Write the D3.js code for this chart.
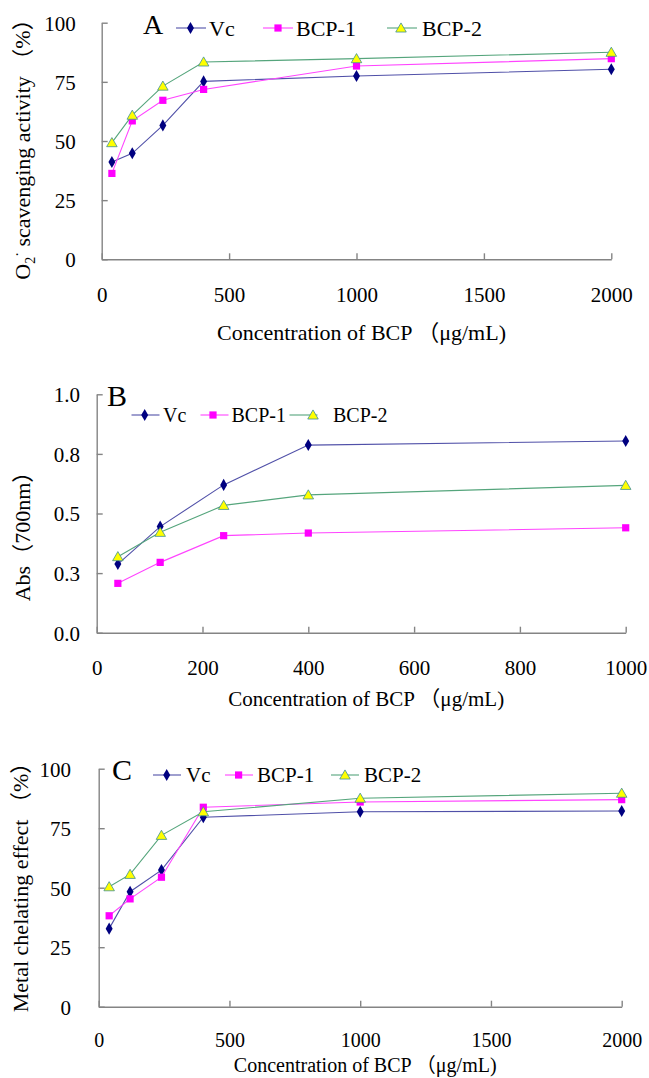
<!DOCTYPE html>
<html>
<head>
<meta charset="utf-8">
<script src="https://cdn.jsdelivr.net/npm/d3@7"></script>
<style>
  html, body { margin: 0; padding: 0; background: #fff; }
  svg { display: block; }
  text { font-family: "Liberation Serif", "Times New Roman", "Noto Sans CJK SC", serif; fill: #000; }
</style>
</head>
<body>
<svg id="chart" width="649" height="1078"></svg>
<script>
// ---------- DATA ----------
const seriesNames = ["Vc", "BCP-1", "BCP-2"];

const concA = [40, 120, 240, 400, 1000, 2000];
const vcA   = [41.1, 44.8, 56.6, 75.2, 77.5, 80.3];
const bcp1A = [36.3, 58.5, 67.2, 71.8, 81.7, 84.8];
const bcp2A = [49.3, 60.9, 73.2, 83.4, 84.8, 87.5];

const concB = [40, 120, 240, 400, 1000];
const vcB   = [0.288, 0.445, 0.620, 0.787, 0.804];
const bcp1B = [0.207, 0.295, 0.407, 0.418, 0.440];
const bcp2B = [0.319, 0.421, 0.534, 0.578, 0.618];

const concC = [40, 120, 240, 400, 1000, 2000];
const vcC   = [32.8, 48.3, 57.4, 79.6, 81.9, 82.2];
const bcp1C = [38.2, 45.3, 54.4, 83.8, 86.0, 87.0];
const bcp2C = [50.4, 55.6, 72.0, 81.9, 87.6, 89.7];

const xTicksA = [0, 500, 1000, 1500, 2000];
const yTicksA = [0, 25, 50, 75, 100];
const xTicksB = [0, 200, 400, 600, 800, 1000];
const yTicksB = [0, 0.25, 0.5, 0.75, 1.0];
const xTicksC = [0, 500, 1000, 1500, 2000];
const yTicksC = [0, 25, 50, 75, 100];

const xTitle = "Concentration of BCP （μg/mL)";

// ---------- STYLES ----------
const styles = [
  { line: "#5050a8", fill: "#000080", stroke: "none", sym: d3.symbolDiamond, size: 42 },
  { line: "#ff44ff", fill: "#ff00ff", stroke: "none", sym: d3.symbolSquare, size: 52 },
  { line: "#55a57c", fill: "#ffff00", stroke: "#3f8f96", sym: d3.symbolTriangle, size: 48 }
];

const svg = d3.select("#chart");

const panels = [
  {
    letter: "A", letterX: 143, letterY: 34, letterSize: 28,
    x0: 101.7, x1: 611.3, yTop: 22.7, yBot: 259.3,
    xDomain: [0, 2000], yDomain: [0, 100], xTicks: xTicksA, yTicks: yTicksA, yFmt: d3.format("d"),
    conc: concA, series: [vcA, bcp1A, bcp2A],
    yPad: 26, xLabDy: 35, xLabSize: 21, titleY: 332, titleSize: 22,
    legend: { y: 28, size: 22, items: [{ l: 176, m: 190.5, t: 209 }, { l: 263, m: 278, t: 296 }, { l: 387, m: 401, t: 422 }], lw: 30 },
    yTitle: { x: 22, y: 144, parts: "A" }
  },
  {
    letter: "B", letterX: 107, letterY: 406, letterSize: 30,
    x0: 96.7, x1: 625.7, yTop: 394.3, yBot: 632.7,
    xDomain: [0, 1000], yDomain: [0, 1], xTicks: xTicksB, yTicks: yTicksB, yFmt: d3.format(".1f"),
    conc: concB, series: [vcB, bcp1B, bcp2B],
    yPad: 16.7, xLabDy: 35, xLabSize: 21, titleY: 699, titleSize: 21,
    legend: { y: 415, size: 20, items: [{ l: 131.5, m: 144.7, t: 163 }, { l: 200.5, m: 213, t: 231.5 }, { l: 289.5, m: 313, t: 333 }], lw: 28 },
    yTitle: { x: 22, y: 531, parts: "B" }
  },
  {
    letter: "C", letterX: 112, letterY: 780, letterSize: 30,
    x0: 98.7, x1: 621.7, yTop: 768.7, yBot: 1006.7,
    xDomain: [0, 2000], yDomain: [0, 100], xTicks: xTicksC, yTicks: yTicksC, yFmt: d3.format("d"),
    conc: concC, series: [vcC, bcp1C, bcp2C],
    yPad: 27.7, xLabDy: 33.5, xLabSize: 20, titleY: 1065, titleSize: 20,
    legend: { y: 775, size: 21, items: [{ l: 153, m: 166.7, t: 186 }, { l: 225, m: 238.6, t: 257 }, { l: 331, m: 345, t: 364 }], lw: 28 },
    yTitle: { x: 20, y: 882, parts: "C" }
  }
];

panels.forEach(p => {
  const x = d3.scaleLinear().domain(p.xDomain).range([p.x0, p.x1]);
  const y = d3.scaleLinear().domain(p.yDomain).range([p.yBot, p.yTop]);
  const g = svg.append("g");

  // y axis
  const ya = g.append("g").attr("transform", `translate(${p.x0},0)`)
    .call(d3.axisLeft(y).tickValues(p.yTicks).tickFormat(p.yFmt).tickSize(-6).tickSizeOuter(0).tickPadding(p.yPad));
  // x axis
  const xa = g.append("g").attr("transform", `translate(0,${p.yBot})`)
    .call(d3.axisBottom(x).tickValues(p.xTicks).tickFormat(d3.format("d")).tickSize(-6).tickSizeOuter(0));
  [ya, xa].forEach(a => {
    a.selectAll(".domain").attr("stroke", "#848484").attr("stroke-width", 1.4);
    a.selectAll(".tick line").attr("stroke", "#848484").attr("stroke-width", 1.4);
    a.selectAll("text").style("font-family", "'Liberation Serif', serif").attr("fill", "#000");
  });
  ya.selectAll("text").attr("dy", "0.35em").attr("font-size", 21);
  xa.selectAll("text").attr("y", p.xLabDy).attr("dy", "0.35em").attr("font-size", p.xLabSize);

  // lines and markers
  p.series.forEach((vals, i) => {
    const st = styles[i];
    const pts = p.conc.map((c, k) => [x(c), y(vals[k])]);
    g.append("path").attr("d", d3.line()(pts))
      .attr("fill", "none").attr("stroke", st.line).attr("stroke-width", 1.1);
    g.selectAll(null).data(pts).enter().append("path")
      .attr("transform", d => `translate(${d[0]},${d[1] + (st.sym === d3.symbolTriangle ? 1 : 0)})`)
      .attr("d", d3.symbol().type(st.sym).size(st.size))
      .attr("fill", st.fill).attr("stroke", st.stroke).attr("stroke-width", 0.8);
  });

  // panel letter
  g.append("text").attr("x", p.letterX).attr("y", p.letterY).attr("font-size", p.letterSize).text(p.letter);

  // legend
  const L = p.legend;
  L.items.forEach((it, i) => {
    const st = styles[i];
    g.append("line").attr("x1", it.l).attr("x2", it.l + L.lw).attr("y1", L.y).attr("y2", L.y)
      .attr("stroke", st.line).attr("stroke-width", 1.1);
    g.append("path").attr("transform", `translate(${it.m},${L.y + (st.sym === d3.symbolTriangle ? 1 : 0)})`)
      .attr("d", d3.symbol().type(st.sym).size(st.size))
      .attr("fill", st.fill).attr("stroke", st.stroke).attr("stroke-width", 0.8);
    g.append("text").attr("x", it.t).attr("y", L.y).attr("dy", "0.35em").attr("font-size", L.size).text(seriesNames[i]);
  });

  // x title
  g.append("text").attr("x", (p.x0 + p.x1) / 2 + 5).attr("y", p.titleY).attr("dy", "0.35em")
    .attr("text-anchor", "middle").attr("font-size", p.titleSize).text(xTitle);

  // y title
  const yt = g.append("text").attr("transform", `translate(${p.yTitle.x},${p.yTitle.y}) rotate(-90)`)
    .attr("text-anchor", "middle").attr("dy", "0.35em").attr("font-size", 22);
  if (p.yTitle.parts === "A") {
    yt.append("tspan").text("O");
    yt.append("tspan").attr("font-size", 14).attr("dy", 5).text("2");
    yt.append("tspan").attr("font-size", 14).attr("dy", -13).text("·");
    yt.append("tspan").attr("dy", 8).text(" scavenging activity （%）");
  } else if (p.yTitle.parts === "B") {
    yt.text("Abs（700nm）");
  } else {
    yt.text("Metal chelating effect （%）");
  }
});
</script>
</body>
</html>
